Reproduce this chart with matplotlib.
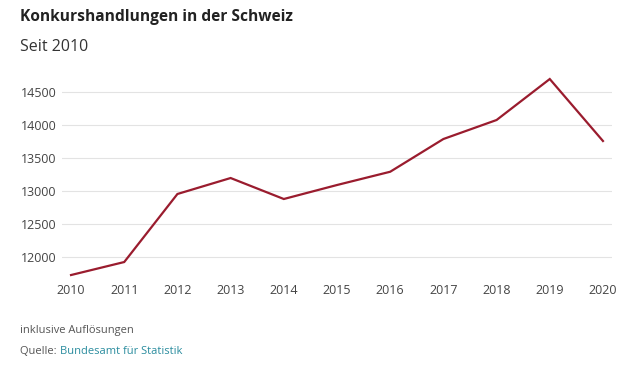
import matplotlib
matplotlib.use('Agg')
import matplotlib.pyplot as plt

# Daten
jahre = [2010, 2011, 2012, 2013, 2014, 2015, 2016, 2017, 2018, 2019, 2020]
konkurse = [11727, 11924, 12955, 13197, 12879, 13091, 13292, 13788, 14076, 14697, 13758]
y_ticks = [12000, 12500, 13000, 13500, 14000, 14500]

plt.rcParams['font.family'] = ['Open Sans', 'DejaVu Sans']

fig = plt.figure(figsize=(6.4, 3.72), dpi=100)
fig.patch.set_facecolor('white')
ax = fig.add_axes([62/640, 1 - 278/372, 550/640, 203/372])

ax.plot(jahre, konkurse, color='#9a1c2e', linewidth=1.6, solid_joinstyle='miter')

ax.set_xlim(2009.83, 2020.17)
ax.set_ylim(11682, 14758)
ax.set_xticks(jahre)
ax.set_yticks(y_ticks)
ax.grid(axis='y', color='#e3e3e3', linewidth=0.8)
ax.set_axisbelow(True)
for s in ax.spines.values():
    s.set_visible(False)
ax.tick_params(length=0, labelsize=9, colors='#444444')
ax.tick_params(axis='y', pad=4)
ax.tick_params(axis='x', pad=4)

# Titel
fig.text(20/640, 1 - 17/372, 'Konkurshandlungen in der Schweiz', fontsize=11.2,
         fontweight='bold', color='#222222', va='center', ha='left')
fig.text(20/640, 1 - 47/372, 'Seit 2010', fontsize=11.5, color='#333333',
         va='center', ha='left')

# Fussnoten
fig.text(20/640, 1 - 330/372, 'inklusive Auflösungen', fontsize=8,
         color='#555555', va='center', ha='left')
t = fig.text(20/640, 1 - 352/372, 'Quelle: ', fontsize=8, color='#555555',
             va='center', ha='left')
fig.canvas.draw()
bb = t.get_window_extent()
fig.text(bb.x1 / 640, 1 - 352/372, 'Bundesamt für Statistik', fontsize=8,
         color='#2a8c9e', va='center', ha='left')

fig.savefig('out.png', dpi=100)
